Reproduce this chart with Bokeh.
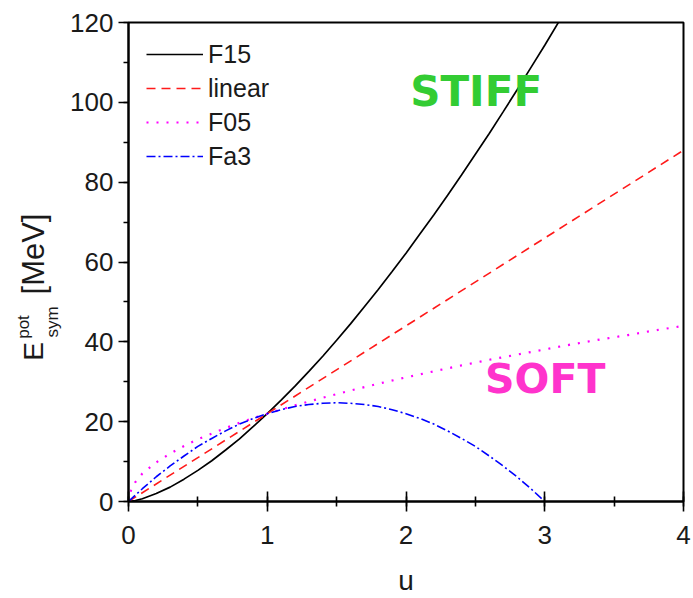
import math

from bokeh.core.properties import value
from bokeh.embed import file_html
from bokeh.layouts import row
from bokeh.models import (ColumnDataSource, Label, Legend, LegendItem, Range1d,
                          SingleIntervalTicker)
from bokeh.plotting import figure
from bokeh.resources import INLINE

# Potential part of the symmetry energy versus reduced density u
u_f15 = [0.0, 0.05, 0.1, 0.2, 0.3, 0.4, 0.5, 0.6, 0.7, 0.8, 0.9, 1.0, 1.1, 1.2, 1.3,
         1.4, 1.5, 1.6, 1.7, 1.8, 1.9, 2.0, 2.1, 2.2, 2.3, 2.4, 2.5, 2.6, 2.7, 2.8,
         2.9, 3.0, 3.1, 3.2]
e_f15 = [0.0, 0.25, 0.7, 2.0, 3.6, 5.6, 7.8, 10.2, 12.9, 15.7, 18.8, 22.0, 25.4, 28.9,
         32.6, 36.4, 40.4, 44.5, 48.8, 53.1, 57.6, 62.2, 67.0, 71.8, 76.7, 81.8, 87.0,
         92.2, 97.6, 103.1, 108.7, 114.3, 120.1, 125.9]

u_lin = [0.0, 1.0, 2.0, 3.0, 4.0]
e_lin = [0.0, 22.0, 44.0, 66.0, 88.0]

u_f05 = [0.0, 0.02, 0.05, 0.1, 0.2, 0.3, 0.4, 0.5, 0.6, 0.7, 0.8, 0.9, 1.0, 1.2, 1.4,
         1.6, 1.8, 2.0, 2.2, 2.4, 2.6, 2.8, 3.0, 3.2, 3.4, 3.6, 3.8, 4.0]
e_f05 = [0.0, 3.1, 4.9, 7.0, 9.8, 12.0, 13.9, 15.6, 17.0, 18.4, 19.7, 20.9, 22.0, 24.1,
         26.0, 27.8, 29.5, 31.1, 32.6, 34.1, 35.5, 36.8, 38.1, 39.4, 40.6, 41.7, 42.9,
         44.0]

u_fa3 = [0.0, 0.1, 0.2, 0.3, 0.4, 0.5, 0.6, 0.7, 0.8, 0.9, 1.0, 1.1, 1.2, 1.3, 1.4,
         1.5, 1.6, 1.7, 1.8, 1.9, 2.0, 2.1, 2.2, 2.3, 2.4, 2.5, 2.6, 2.7, 2.8, 2.9, 3.0]
e_fa3 = [0.0, 3.2, 6.2, 8.9, 11.4, 13.8, 15.8, 17.7, 19.4, 20.8, 22.0, 23.0, 23.8, 24.3,
         24.6, 24.75, 24.6, 24.3, 23.8, 23.0, 22.0, 20.8, 19.4, 17.7, 15.8, 13.8, 11.4,
         8.9, 6.2, 3.2, 0.0]

series_names = ["F15", "linear", "F05", "Fa3"]
series_colors = ["#000000", "#ff1a1a", "#ff00ff", "#0000ff"]
series_dashes = ["solid", "9 6", "2 8", "9 3 2 3"]
series_widths = [1.7, 1.6, 2.2, 1.6]

# pieces of the vertical axis title: E, superscript, subscript, unit
ylab_text = ["E", "pot", "sym", "[MeV]"]
ylab_size = ["28px", "17px", "17px", "31px"]

TICK_FONT = "Liberation Sans"
TEXT_COLOR = "#1a1a1a"
LAB_W = 66
PAGE_H = 598

# narrow strip carrying the vertical axis title; its frame is aligned with the
# main plot frame (rows 22..501), so the range is chosen to make y = PAGE_H - row
lab = figure(width=LAB_W, height=PAGE_H, output_backend="svg", toolbar_location=None,
             x_range=Range1d(0, LAB_W), y_range=Range1d(PAGE_H - 501, PAGE_H - 22),
             x_axis_location=None, y_axis_location=None,
             min_border=0, min_border_left=0, min_border_right=0,
             min_border_top=0, min_border_bottom=0)
lab.grid.visible = False
lab.outline_line_color = None
lab_src = ColumnDataSource(dict(x=[33, 22.5, 51.5, 32.5], y=[247, 271.5, 276.5, 344.5],
                                t=ylab_text, s=ylab_size))
lab.text("x", "y", text="t", source=lab_src, angle=math.pi / 2,
         text_font=value(TICK_FONT), text_font_size="s", text_color=TEXT_COLOR,
         text_align="center", text_baseline="middle")

p = figure(width=693 - LAB_W, height=PAGE_H, output_backend="svg", toolbar_location=None,
           x_range=Range1d(0, 4), y_range=Range1d(0, 120),
           min_border_left=128 - LAB_W, min_border_right=10, min_border_top=22,
           min_border_bottom=97)
p.grid.visible = False
p.background_fill_color = "white"
p.border_fill_color = "white"
p.outline_line_color = "black"
p.outline_line_width = 2

# axes
p.xaxis.ticker = SingleIntervalTicker(interval=1, num_minor_ticks=2)
p.yaxis.ticker = SingleIntervalTicker(interval=20, num_minor_ticks=2)
for ax in (p.xaxis[0], p.yaxis[0]):
    ax.axis_line_color = "black"
    ax.axis_line_width = 2
    ax.major_tick_line_color = "black"
    ax.major_tick_line_width = 1.6
    ax.minor_tick_line_color = "black"
    ax.minor_tick_line_width = 1.6
    ax.major_label_text_font = TICK_FONT
    ax.major_label_text_font_size = "26px"
    ax.major_label_text_color = TEXT_COLOR

p.xaxis.major_tick_in = 10
p.xaxis.major_tick_out = 10
p.xaxis.minor_tick_in = 5
p.xaxis.minor_tick_out = 5
p.xaxis.major_label_standoff = 14
p.xaxis.axis_label = "u"
p.xaxis.axis_label_text_font = TICK_FONT
p.xaxis.axis_label_text_font_size = "28px"
p.xaxis.axis_label_text_font_style = "normal"
p.xaxis.axis_label_text_color = TEXT_COLOR
p.xaxis.axis_label_standoff = 18

p.yaxis.major_tick_in = 0
p.yaxis.major_tick_out = 10
p.yaxis.minor_tick_in = 0
p.yaxis.minor_tick_out = 5
p.yaxis.major_label_standoff = 5

# curves
data = [(u_f15, e_f15), (u_lin, e_lin), (u_f05, e_f05), (u_fa3, e_fa3)]
renderers = []
for (xs, ys), color, dash, lw in zip(data, series_colors, series_dashes, series_widths):
    src = ColumnDataSource(dict(u=xs, e=ys))
    r = p.line("u", "e", source=src, line_color=color, line_dash=dash, line_width=lw)
    renderers.append(r)

legend = Legend(items=[LegendItem(label=n, renderers=[r])
                       for n, r in zip(series_names, renderers)],
                location=(18, 328), margin=0, padding=0, spacing=0,
                glyph_width=57, glyph_height=34, label_height=34,
                label_standoff=5, label_text_font=TICK_FONT,
                label_text_font_size="25px", label_text_color=TEXT_COLOR,
                border_line_alpha=0, background_fill_alpha=0)
p.add_layout(legend)

# regime annotations
p.add_layout(Label(x=2.03, y=102.7, text="STIFF", text_font="DejaVu Sans",
                   text_font_style="bold", text_font_size="42px",
                   text_color="#33cc33", text_baseline="alphabetic"))
p.add_layout(Label(x=2.57, y=30.6, text="SOFT", text_font="DejaVu Sans",
                   text_font_style="bold", text_font_size="41px",
                   text_color="#ff33cc", text_baseline="alphabetic"))

layout = row(lab, p, spacing=0)
open("out.html", "w").write(file_html(layout, INLINE))
